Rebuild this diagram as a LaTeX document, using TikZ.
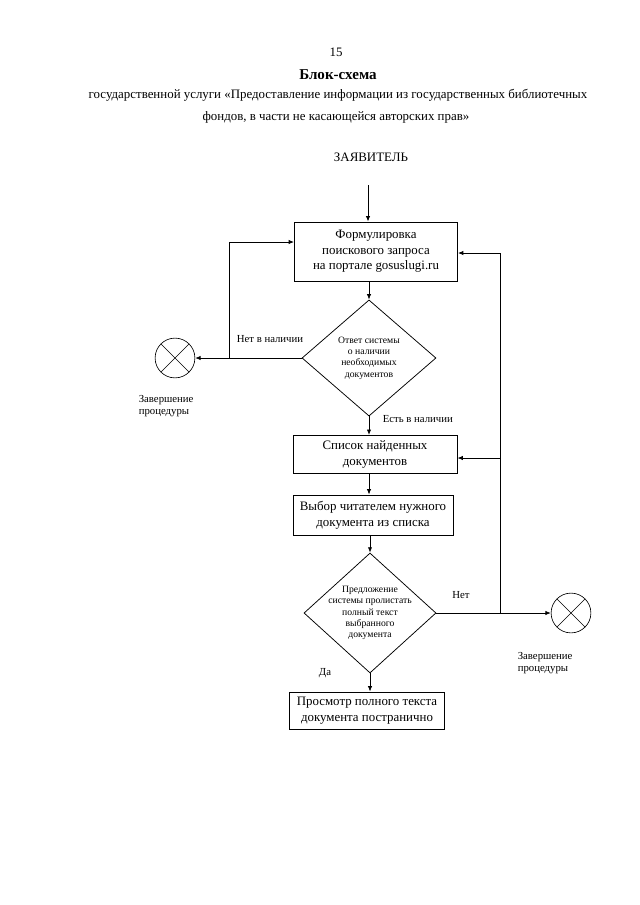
\documentclass[tikz,border=0pt]{standalone}
\usepackage{fontspec}
\setmainfont{Liberation Serif}
\usetikzlibrary{arrows.meta,positioning,shapes.geometric}

\begin{document}
\begin{tikzpicture}[
  x=0.93pt, y=-0.93pt,
  font=\fontsize{12}{14.5}\selectfont,
  >={Latex[length=5pt,width=4pt]},
  box/.style={draw, line width=0.9pt, align=center, inner sep=2pt},
  decision/.style={draw, diamond, line width=0.7pt, inner sep=0pt},
  small/.style={font=\fontsize{9}{10.5}\selectfont, align=center},
  tag/.style={font=\fontsize{10}{11.5}\selectfont, align=center},
  stopnode/.style={draw, circle, line width=0.6pt, minimum size=37pt, inner sep=0pt,
    path picture={\draw[line width=0.5pt]
      (path picture bounding box.north west) -- (path picture bounding box.south east)
      (path picture bounding box.north east) -- (path picture bounding box.south west);}},
  link/.style={->, line width=0.7pt}
]
\useasboundingbox (0,0) rectangle (640,905);

% heading
\node (num) at (336,52) {15};
\node[font=\bfseries\fontsize{14}{16}\selectfont] (title) at (338,75) {Блок-схема};
\node (sub1) at (338,95) {государственной услуги «Предоставление информации из государственных библиотечных};
\node (sub2) at (336,117) {фондов, в части не касающейся авторских прав»};
\node (applicant) at (371,157) {ЗАЯВИТЕЛЬ};
\coordinate (start) at (368,185);

% main column
\node[box, minimum width=151.6pt, minimum height=54.9pt] (query) at (376,251.5) {Формулировка\\поискового запроса\\на портале gosuslugi.ru};
\node[decision, minimum width=124.6pt, minimum height=108pt,
  label={[small]center:{Ответ системы\\о наличии\\необходимых\\документов}}] (avail) at (369,358) {};
\node[box, minimum width=152.5pt, minimum height=35.5pt] (found) at (375,454.5) {Список найденных\\документов};
\node[box, minimum width=148.8pt, minimum height=37.2pt] (choice) at (373,515) {Выбор читателем нужного\\документа из списка};
\node[decision, minimum width=122.8pt, minimum height=111.6pt,
  label={[small]center:{Предложение\\системы пролистать\\полный текст\\выбранного\\документа}}] (offer) at (370,613) {};
\node[box, minimum width=145pt, minimum height=34.4pt] (view) at (367,710.5) {Просмотр полного текста\\документа постранично};

% end points
\node[stopnode] (stop1) at (175,358) {};
\node[stopnode] (stop2) at (571,613) {};
\node[tag, align=left, anchor=west] (stop1txt) at (135,406) {Завершение\\процедуры};
\node[tag, align=left, anchor=west] (stop2txt) at (514,663) {Завершение\\процедуры};

% branch labels
\node[tag] (nolbl) at (270,339) {Нет в наличии};
\node[tag, anchor=west] (yeslbl) at (379,419) {Есть в наличии};
\node[tag] (nolbl2) at (461,595) {Нет};
\node[tag] (yeslbl2) at (325,673) {Да};

% arrows
\draw[link] (start) -- (start |- query.north);
\draw[link] (avail.north |- query.south) -- (avail.north);
\draw[link] (avail.south) -- (avail.south |- found.north);
\draw[link] (avail.south |- found.south) -- (avail.south |- choice.north);
\draw[link] (offer.north |- choice.south) -- (offer.north);
\draw[link] (offer.south) -- (offer.south |- view.north);

\draw[link] (avail.west) -- (stop1.east);
\coordinate (jl) at (229,358);
\coordinate (jlt) at (229,242);
\draw[link] (jl) -- (jlt) -- (jlt -| query.west);

\draw[link] (offer.east) -- (stop2.west);
\coordinate (jr) at (500,613);
\coordinate (jrt) at (500,253);
\coordinate (jrm) at (500,458);
\draw[link] (jr) -- (jrt) -- (jrt -| query.east);
\draw[link] (jrm) -- (jrm -| found.east);
\end{tikzpicture}
\end{document}
